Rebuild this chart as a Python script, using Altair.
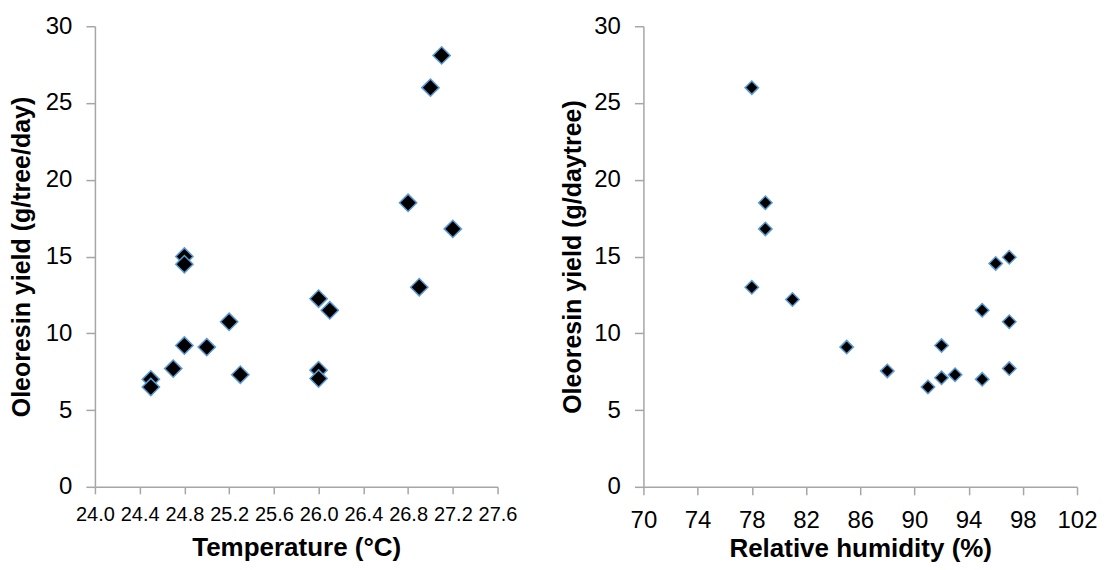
import altair as alt
import pandas as pd

# Left panel: temperature vs oleoresin yield
temperature = [24.8, 24.8, 24.5, 24.5, 24.7, 24.8, 25.0, 25.2, 25.3,
               26.0, 26.1, 26.0, 26.0, 26.9, 27.1, 27.0, 26.8, 27.2]
yield_temp = [15.0, 14.5, 7.0, 6.5, 7.7, 9.2, 9.1, 10.75, 7.3,
              12.25, 11.5, 7.6, 7.05, 13.0, 28.1, 26.0, 18.5, 16.8]

# Right panel: relative humidity vs oleoresin yield
humidity = [78, 81, 85, 88, 91, 92, 92, 93, 95, 95, 97, 97, 96, 97, 78, 79, 79]
yield_rh = [13.0, 12.2, 9.1, 7.55, 6.5, 7.1, 9.2, 7.3, 7.0, 11.5, 10.75,
            7.7, 14.55, 14.95, 26.0, 18.5, 16.8]

temp_ticks = [24.0, 24.4, 24.8, 25.2, 25.6, 26.0, 26.4, 26.8, 27.2, 27.6]
rh_ticks = [70, 74, 78, 82, 86, 90, 94, 98, 102]
y_ticks = [0, 5, 10, 15, 20, 25, 30]

FONT = "Liberation Sans"
AXIS_COLOR = "#a6a6a6"

df_t = pd.DataFrame({"t": temperature, "y": yield_temp})
df_h = pd.DataFrame({"h": humidity, "y": yield_rh})


def y_axis(title, title_pad):
    return alt.Axis(
        title=title, values=y_ticks, grid=False,
        domainColor=AXIS_COLOR, domainWidth=1.5,
        tickColor=AXIS_COLOR, tickWidth=1.5, tickSize=9,
        labelFontSize=24, labelFont=FONT, labelColor="black", labelPadding=14,
        titleFontSize=25, titleFont=FONT, titleFontWeight="bold",
        titleColor="black", titlePadding=title_pad,
    )


left = alt.Chart(df_t).mark_point(
    shape="diamond", filled=True, fill="black", stroke="#5B9BD5",
    strokeWidth=1.5, size=300, opacity=1,
).encode(
    x=alt.X("t:Q", scale=alt.Scale(domain=[24.0, 27.6], nice=False, zero=False),
            axis=alt.Axis(
                title="Temperature (°C)", values=temp_ticks, format=".1f",
                grid=False, domainColor=AXIS_COLOR, domainWidth=1.5,
                tickColor=AXIS_COLOR, tickWidth=1.5, tickSize=7,
                labelFontSize=20, labelFont=FONT, labelColor="black",
                labelPadding=11, labelOverlap=False, labelFlush=False,
                titleFontSize=26, titleFont=FONT, titleFontWeight="bold",
                titleColor="black", titlePadding=10)),
    y=alt.Y("y:Q", scale=alt.Scale(domain=[0, 30], nice=False),
            axis=y_axis("Oleoresin yield (g/tree/day)", 11)),
).properties(width=403, height=461)

right = alt.Chart(df_h).mark_point(
    shape="diamond", filled=True, fill="black", stroke="#5B9BD5",
    strokeWidth=1.5, size=180, opacity=1,
).encode(
    x=alt.X("h:Q", scale=alt.Scale(domain=[70, 102], nice=False, zero=False),
            axis=alt.Axis(
                title="Relative humidity (%)", values=rh_ticks,
                grid=False, domainColor=AXIS_COLOR, domainWidth=1.5,
                tickColor=AXIS_COLOR, tickWidth=1.5, tickSize=8,
                labelFontSize=24, labelFont=FONT, labelColor="black",
                labelPadding=14, labelOverlap=False, labelFlush=False,
                titleFontSize=26, titleFont=FONT, titleFontWeight="bold",
                titleColor="black", titlePadding=3)),
    y=alt.Y("y:Q", scale=alt.Scale(domain=[0, 30], nice=False),
            axis=y_axis("Oleoresin yield (g/daytree)", 8)),
).properties(width=434, height=461)

chart = alt.hconcat(left, right, spacing=146, bounds="flush").properties(
    padding={"left": 1, "top": 6, "right": -1, "bottom": 0}
).configure(background="white").configure_view(stroke=None)

chart.save("out.html", embed_options={"renderer": "svg", "actions": False})
